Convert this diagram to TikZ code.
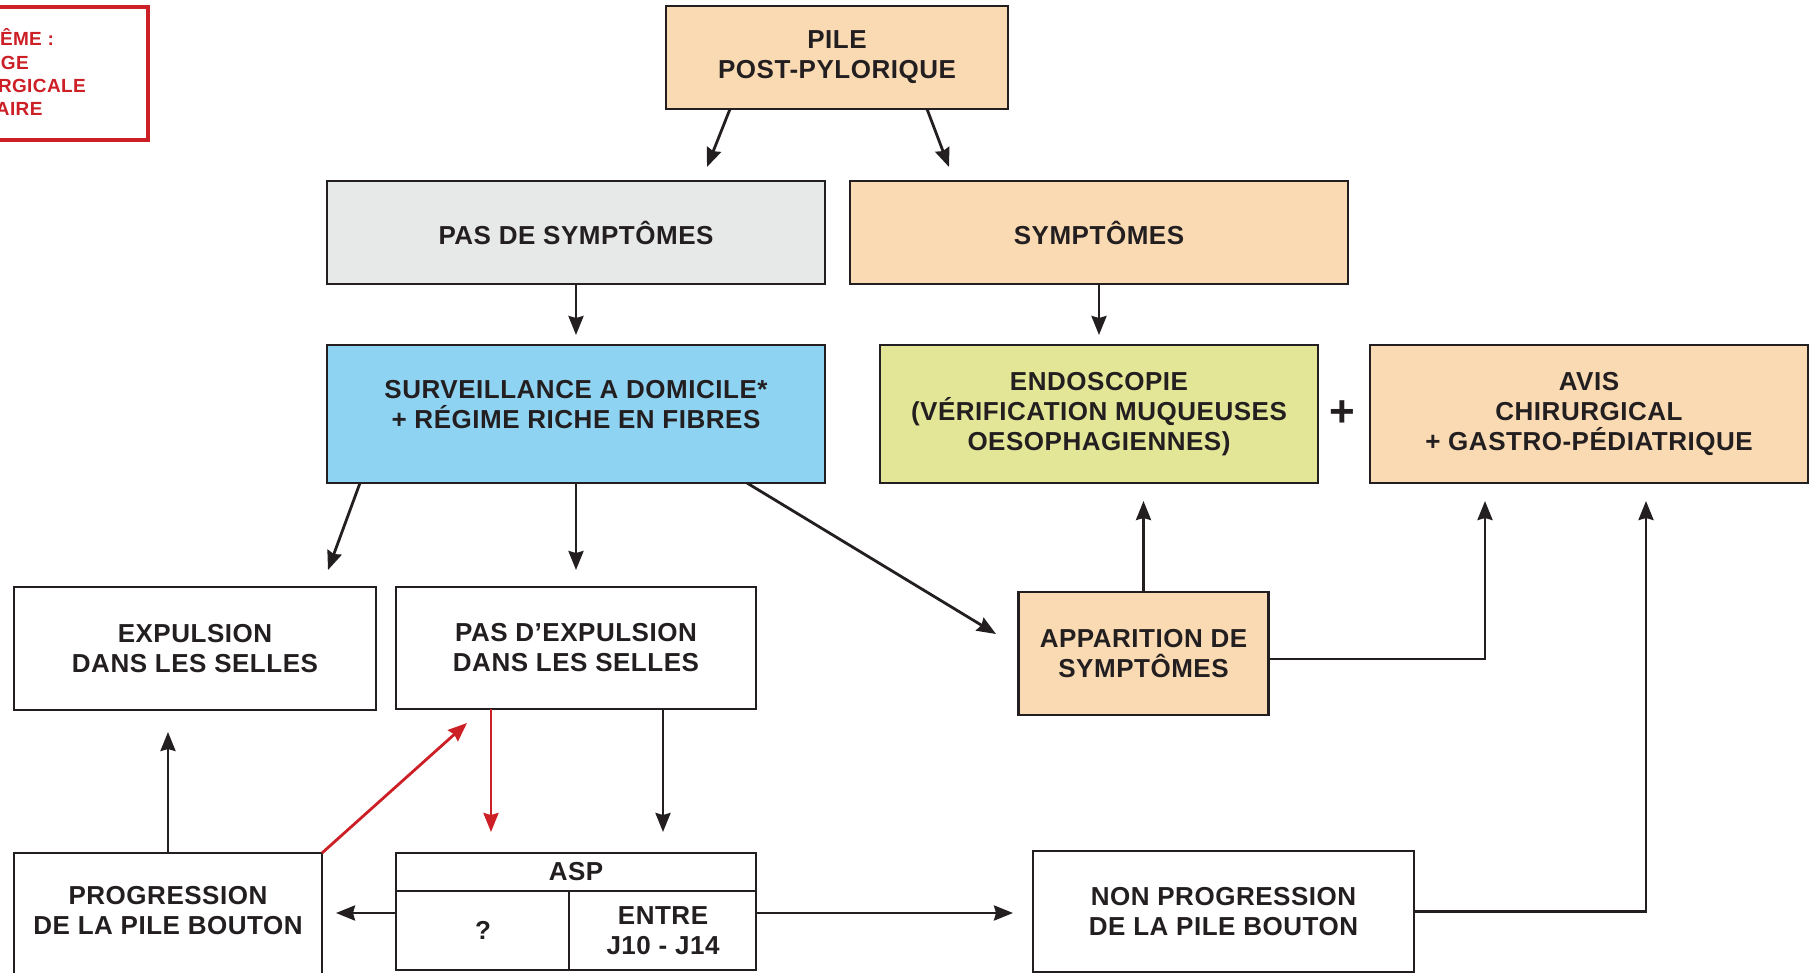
\documentclass[tikz,border=0pt]{standalone}
\usepackage{fontspec}
\setmainfont{Liberation Sans}
\newfontfamily\boxfont[LetterSpace=2]{Liberation Sans}
\usetikzlibrary{arrows.meta}
\definecolor{peach}{RGB}{249,218,179}
\definecolor{greyb}{RGB}{230,233,232}
\definecolor{blueb}{RGB}{143,211,242}
\definecolor{yellowb}{RGB}{227,230,151}
\definecolor{redc}{RGB}{204,31,38}
\definecolor{inkc}{RGB}{35,31,32}
\tikzset{
  box/.style={draw=inkc, line width=1.4pt, inner sep=0pt, outer sep=0pt, align=center,
    text=inkc, font=\boxfont\bfseries\fontsize{13}{15}\selectfont},
  txt/.style={inner sep=0pt, outer sep=0pt, align=center, text=inkc,
    font=\boxfont\bfseries\fontsize{13}{15}\selectfont},
  redtxt/.style={inner sep=0pt, outer sep=0pt, anchor=base west, text=redc,
    font=\boxfont\bfseries\fontsize{9.5}{11}\selectfont},
  tipstyle/.style={-{Stealth[length=9.5pt,width=7.5pt,inset=1pt]}},
  arr/.style={draw=inkc, line width=1.4pt, tipstyle},
  redarr/.style={draw=redc, line width=1.4pt, tipstyle},
}
\begin{document}
\begin{tikzpicture}[x=0.5pt,y=-0.5pt]
\clip (0,0) rectangle (1816,973);
\fill[white] (0,0) rectangle (1816,973);

% red box (clipped at the left)
\node[draw=redc, line width=1.7pt, inner sep=0pt, minimum width=84pt, minimum height=66.5pt] (redbox) at (64,73.5) {};
\node[redtxt] (r1) at (0,45.5) {ÊME :};
\node[redtxt] (r2) at (1,69.5) {GE};
\node[redtxt] (r3) at (-2,92.5) {RGICALE};
\node[redtxt] (r4) at (-4,115.5) {AIRE};

% row 1
\node[box, fill=peach, minimum width=171pt, minimum height=51.5pt] (pile) at (837,57.5) {PILE\\POST-PYLORIQUE};

% row 2
\node[box, fill=greyb, minimum width=249pt, minimum height=51.5pt] (nosym) at (576,232.5) {PAS DE SYMPTÔMES};
\node[box, fill=peach, minimum width=249pt, minimum height=51.5pt] (sym) at (1099,232.5) {SYMPTÔMES};

% row 3
\node[box, fill=blueb, minimum width=249pt, minimum height=69pt] (surv) at (576,414) {};
\node[txt] (survt) at (576,405) {SURVEILLANCE A DOMICILE*\\+ RÉGIME RICHE EN FIBRES};
\node[box, fill=yellowb, minimum width=219pt, minimum height=69pt] (endo) at (1099,414) {ENDOSCOPIE\\(VÉRIFICATION MUQUEUSES\\OESOPHAGIENNES)};
\node[inner sep=0pt, text=inkc, font=\bfseries\fontsize{22}{22}\selectfont] (plus) at (1342,414) {+};
\node[box, fill=peach, minimum width=219pt, minimum height=69pt] (avis) at (1589,414) {AVIS\\CHIRURGICAL\\+ GASTRO-PÉDIATRIQUE};

% row 4
\node[box, fill=white, minimum width=181pt, minimum height=61.5pt] (exp) at (195,648.5) {EXPULSION\\DANS LES SELLES};
\node[box, fill=white, minimum width=180pt, minimum height=61pt] (nexp) at (576,648) {PAS D’EXPULSION\\DANS LES SELLES};
\node[box, fill=peach, minimum width=125pt, minimum height=61.5pt] (app) at (1143.5,653.5) {APPARITION DE\\SYMPTÔMES};

% row 5
\node[box, fill=white, minimum width=154pt, minimum height=73.5pt] (prog) at (168,926.5) {};
\node[txt] (progt) at (168,911) {PROGRESSION\\DE LA PILE BOUTON};
\node[box, fill=white, minimum width=180pt, minimum height=58.5pt] (asp) at (576,911.5) {};
\draw[draw=inkc, line width=1.4pt] ([yshift=-19pt]asp.north west) -- ([yshift=-19pt]asp.north east);
\draw[draw=inkc, line width=1.4pt] ([xshift=86.5pt,yshift=-19pt]asp.north west) -- ([xshift=86.5pt]asp.south west);
\node[txt] (aspt) at (576,872) {ASP};
\node[txt] (qt) at (483,930) {?};
\node[txt] (entre) at (663,931) {ENTRE\\J10 - J14};
\node[box, fill=white, minimum width=190.5pt, minimum height=60.5pt] (nonprog) at (1223.5,911.5) {NON PROGRESSION\\DE LA PILE BOUTON};

% arrow tips
\coordinate (t1) at (707,167);
\coordinate (t2) at (949,167);
\coordinate (t3) at (576,335);
\coordinate (t4) at (1099,335);
\coordinate (t5) at (328,570);
\coordinate (t6) at (576,570);
\coordinate (t7) at (996,634);
\coordinate (t8) at (1143.5,501);
\coordinate (t9) at (1485,501);
\coordinate (t10) at (1646,501);
\coordinate (t11) at (168,732);
\coordinate (t12) at (467,723);
\coordinate (t13) at (491,832);
\coordinate (t14) at (663,832);
\coordinate (t15) at (336,913);
\coordinate (t16) at (1013,913);

% connectors
\draw[arr] ([xshift=32pt]pile.south west) -- (t1);
\draw[arr] ([xshift=130.5pt]pile.south west) -- (t2);
\draw[arr] (nosym.south) -- (t3);
\draw[arr] (sym.south) -- (t4);
\draw[arr] ([xshift=16.5pt]surv.south west) -- (t5);
\draw[arr] (surv.south) -- (t6);
\draw[arr] ([xshift=210pt]surv.south west) -- (t7);
\draw[arr] (app.north) -- (t8);
\draw[arr] ([yshift=-2.75pt]app.east) -| (t9);
\draw[arr] (nonprog.east) -| (t10);
\draw[arr] (prog.north) -- (t11);
\draw[redarr] (prog.north east) -- (t12);
\draw[redarr] ([xshift=47.5pt]nexp.south west) -- (t13);
\draw[arr] ([xshift=133.5pt]nexp.south west) -- (t14);
\draw[arr] ([yshift=-0.75pt]asp.west) -- (t15);
\draw[arr] ([yshift=-0.75pt]asp.east) -- (t16);
\end{tikzpicture}
\end{document}
